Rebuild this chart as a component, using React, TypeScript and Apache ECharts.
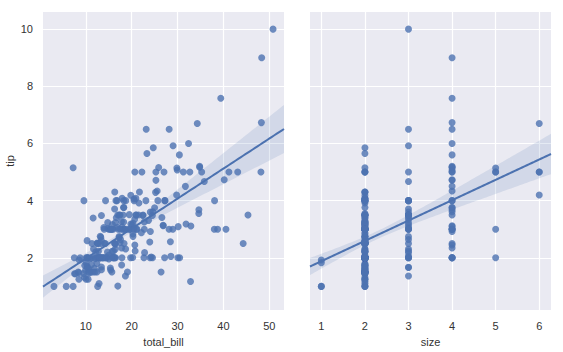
import React, { useEffect, useRef } from "react";
import * as echarts from "echarts";

const totalBill = [
  16.99,10.34,21.01,23.68,24.59,25.29,8.77,26.88,15.04,14.78,
  10.27,35.26,15.42,18.43,14.83,21.58,10.33,16.29,16.97,20.65,
  17.92,20.29,15.77,39.42,19.82,17.81,13.37,12.69,21.7,19.65,
  9.55,18.35,15.06,20.69,17.78,24.06,16.31,16.93,18.69,31.27,
  16.04,17.46,13.94,9.68,30.4,18.29,22.23,32.4,28.55,18.04,
  12.54,10.29,34.81,9.94,25.56,19.49,38.01,26.41,11.24,48.27,
  20.29,13.81,11.02,18.29,17.59,20.08,16.45,3.07,20.23,15.01,
  12.02,17.07,26.86,25.28,14.73,10.51,17.92,27.2,22.76,17.29,
  19.44,16.66,10.07,32.68,15.98,34.83,13.03,18.28,24.71,21.16,
  28.97,22.49,5.75,16.32,22.75,40.17,27.28,12.03,21.01,12.46,
  11.35,15.38,44.3,22.42,20.92,15.36,20.49,25.21,18.24,14.31,
  14.0,7.25,38.07,23.95,25.71,17.31,29.93,10.65,12.43,24.08,
  11.69,13.42,14.26,15.95,12.48,29.8,8.52,14.52,11.38,22.82,
  19.08,20.27,11.17,12.26,18.26,8.51,10.33,14.15,16.0,13.16,
  17.47,34.3,41.19,27.05,16.43,8.35,18.64,11.87,9.78,7.51,
  14.07,13.13,17.26,24.55,19.77,29.85,48.17,25.0,13.39,16.49,
  21.5,12.66,16.21,13.81,17.51,24.52,20.76,31.71,10.59,10.63,
  50.81,15.81,7.25,31.85,16.82,32.9,17.89,14.48,9.6,34.63,
  34.65,23.33,45.35,23.17,40.55,20.69,20.9,30.46,18.15,23.1,
  15.69,19.81,28.44,15.48,16.58,7.56,10.34,43.11,13.0,13.51,
  18.71,12.74,13.0,16.4,20.53,16.47,26.59,38.73,24.27,12.76,
  30.06,25.89,48.33,13.27,28.17,12.9,28.15,11.59,7.74,30.14,
  12.16,13.42,8.58,15.98,13.42,16.27,10.09,20.45,13.28,22.12,
  24.01,15.69,11.61,10.77,15.53,10.07,12.6,32.83,35.83,29.03,
  27.18,22.67,17.82,18.78,
];

const tip = [
  1.01,1.66,3.5,3.31,3.61,4.71,2.0,3.12,1.96,3.23,
  1.71,5.0,1.57,3.0,3.02,3.92,1.67,3.71,3.5,3.35,
  4.08,2.75,2.23,7.58,3.18,2.34,2.0,2.0,4.3,3.0,
  1.45,2.5,3.0,2.45,3.27,3.6,2.0,3.07,2.31,5.0,
  2.24,2.54,3.06,1.32,5.6,3.0,5.0,6.0,2.05,3.0,
  2.5,2.6,5.2,1.56,4.34,3.51,3.0,1.5,1.76,6.73,
  3.21,2.0,1.98,3.76,2.64,3.15,2.47,1.0,2.01,2.09,
  1.97,3.0,3.14,5.0,2.2,1.25,3.08,4.0,3.0,2.71,
  3.0,3.4,1.83,5.0,2.03,5.17,2.0,4.0,5.85,3.0,
  3.0,3.5,1.0,4.3,3.25,4.73,4.0,1.5,3.0,1.5,
  2.5,3.0,2.5,3.48,4.08,1.64,4.06,4.29,3.76,4.0,
  3.0,1.0,4.0,2.55,4.0,3.5,5.07,1.5,1.8,2.92,
  2.31,1.68,2.5,2.0,2.52,4.2,1.48,2.0,2.0,2.18,
  1.5,2.83,1.5,2.0,3.25,1.25,2.0,2.0,2.0,2.75,
  3.5,6.7,5.0,5.0,2.3,1.5,1.36,1.63,1.73,2.0,
  2.5,2.0,2.74,2.0,2.0,5.14,5.0,3.75,2.61,2.0,
  3.5,2.5,2.0,2.0,3.0,3.48,2.24,4.5,1.61,2.0,
  10.0,3.16,5.15,3.18,4.0,3.11,2.0,2.0,4.0,3.55,
  3.68,5.65,3.5,6.5,3.0,5.0,3.5,2.0,3.5,4.0,
  1.5,4.19,2.56,2.02,4.0,1.44,2.0,5.0,2.0,2.0,
  4.0,2.01,2.0,2.5,4.0,3.23,3.41,3.0,2.03,2.23,
  2.0,5.16,9.0,2.5,6.5,1.1,3.0,1.5,1.44,3.09,
  2.2,3.48,1.92,3.0,1.58,2.5,2.0,3.0,2.72,2.88,
  2.0,3.0,3.39,1.47,3.0,1.25,1.0,1.17,4.67,5.92,
  2.0,2.0,1.75,3.0,
];

const partySize = [
  2,3,3,2,4,4,2,4,2,2,
  2,4,2,4,2,2,3,3,3,3,
  2,2,2,4,2,4,2,2,2,2,
  2,4,2,4,2,3,3,3,3,3,
  3,2,2,2,4,2,2,4,3,2,
  2,2,4,2,4,2,4,2,2,4,
  2,2,2,4,3,3,2,1,2,2,
  2,3,2,2,2,2,2,4,2,2,
  2,2,1,2,2,4,2,2,2,2,
  2,2,2,2,2,4,2,2,2,2,
  2,2,3,2,2,2,2,2,2,2,
  2,1,3,2,3,2,4,2,2,4,
  2,2,2,2,2,6,2,2,2,3,
  2,2,2,2,2,2,2,2,2,2,
  2,6,5,6,2,2,3,2,2,2,
  2,2,3,4,4,5,6,4,2,4,
  4,2,3,2,2,3,2,4,2,2,
  3,2,2,2,2,2,2,2,2,2,
  4,2,3,4,2,5,3,5,3,3,
  2,2,2,2,2,2,2,4,2,2,
  3,2,2,2,4,3,3,4,2,2,
  3,4,4,2,3,2,5,2,2,4,
  2,2,1,3,2,2,2,4,2,2,
  4,3,2,2,2,2,2,2,3,3,
  2,2,2,2,
];

const billTicks = [10, 20, 30, 40, 50];
const sizeTicks = [1, 2, 3, 4, 5, 6];
const tipTicks = [2, 4, 6, 8, 10];

const BILL_RANGE = [0.6835, 53.197];
const SIZE_RANGE = [0.74, 6.27];
const TIP_RANGE = [0.17, 10.6];

// OLS fit with heteroscedasticity-consistent band (approximates seaborn's bootstrap CI)
function regression(xs: number[], ys: number[], lo: number, hi: number, steps = 100) {
  const n = xs.length;
  let sx = 0, sy = 0, sxx = 0, sxy = 0;
  for (let i = 0; i < n; i++) {
    sx += xs[i]; sy += ys[i]; sxx += xs[i] * xs[i]; sxy += xs[i] * ys[i];
  }
  const det = n * sxx - sx * sx;
  const inv = [[sxx / det, -sx / det], [-sx / det, n / det]];
  const b0 = inv[0][0] * sy + inv[0][1] * sxy;
  const b1 = inv[1][0] * sy + inv[1][1] * sxy;
  let m00 = 0, m01 = 0, m11 = 0;
  for (let i = 0; i < n; i++) {
    const e = ys[i] - (b0 + b1 * xs[i]);
    const e2 = e * e;
    m00 += e2; m01 += e2 * xs[i]; m11 += e2 * xs[i] * xs[i];
  }
  const M = [[m00, m01], [m01, m11]];
  const mul = (A: number[][], B: number[][]) => [
    [A[0][0] * B[0][0] + A[0][1] * B[1][0], A[0][0] * B[0][1] + A[0][1] * B[1][1]],
    [A[1][0] * B[0][0] + A[1][1] * B[1][0], A[1][0] * B[0][1] + A[1][1] * B[1][1]],
  ];
  const V = mul(mul(inv, M), inv);
  const line: number[][] = [];
  const upper: number[][] = [];
  const lower: number[][] = [];
  for (let k = 0; k <= steps; k++) {
    const x = lo + ((hi - lo) * k) / steps;
    const yhat = b0 + b1 * x;
    const v = V[0][0] + 2 * x * V[0][1] + x * x * V[1][1];
    const h = 1.96 * Math.sqrt(v);
    line.push([x, yhat]);
    upper.push([x, yhat + h]);
    lower.push([x, yhat - h]);
  }
  return { line, upper, lower };
}

const BLUE = "#4C72B0";
const TEXT = "#333333";
const FONT = "Liberation Sans, Arial, sans-serif";

export default function App() {
  const ref = useRef<HTMLDivElement>(null);

  useEffect(() => {
    if (!ref.current) return;
    const chart = echarts.init(ref.current, undefined, { renderer: "svg" });

    const billFit = regression(totalBill, tip, BILL_RANGE[0], BILL_RANGE[1]);
    const sizeFit = regression(partySize, tip, SIZE_RANGE[0], SIZE_RANGE[1]);

    const xAxisBase = (range: number[], ticks: number[], name: string, idx: number) => ({
      type: "value",
      gridIndex: idx,
      min: range[0],
      max: range[1],
      name,
      nameLocation: "middle",
      nameGap: 22,
      nameTextStyle: { color: TEXT, fontSize: 11, fontFamily: FONT },
      axisLine: { show: false },
      axisTick: { show: false, customValues: ticks },
      axisLabel: { customValues: ticks, color: TEXT, fontSize: 11, fontFamily: FONT, margin: 10 },
      splitLine: { show: true, lineStyle: { color: "#ffffff", width: 1.2 } },
    });

    const yAxisBase = (idx: number, showLabels: boolean) => ({
      type: "value",
      gridIndex: idx,
      min: TIP_RANGE[0],
      max: TIP_RANGE[1],
      name: showLabels ? "tip" : "",
      nameLocation: "middle",
      nameGap: 28,
      nameTextStyle: { color: TEXT, fontSize: 11, fontFamily: FONT },
      axisLine: { show: false },
      axisTick: { show: false, customValues: tipTicks },
      axisLabel: { show: showLabels, customValues: tipTicks, color: TEXT, fontSize: 11, fontFamily: FONT, margin: 10 },
      splitLine: { show: true, lineStyle: { color: "#ffffff", width: 1.2 } },
    });

    const band = (fit: any, idx: number) => ({
      type: "custom",
      xAxisIndex: idx,
      yAxisIndex: idx,
      silent: true,
      z: 1,
      data: [[fit.line[0][0], fit.line[0][1]]],
      renderItem: (_params: any, api: any) => {
        const pts = fit.upper.map((p: number[]) => api.coord(p));
        const low = fit.lower.slice().reverse().map((p: number[]) => api.coord(p));
        return {
          type: "polygon",
          shape: { points: pts.concat(low) },
          style: { fill: "rgba(76,114,176,0.15)", stroke: "none" },
        };
      },
    });

    const scatter = (xs: number[], idx: number) => ({
      type: "scatter",
      xAxisIndex: idx,
      yAxisIndex: idx,
      symbolSize: 7,
      z: 2,
      itemStyle: { color: BLUE, opacity: 0.8 },
      data: xs.map((x, i) => [x, tip[i]]),
    });

    const fitLine = (fit: any, idx: number) => ({
      type: "line",
      xAxisIndex: idx,
      yAxisIndex: idx,
      showSymbol: false,
      silent: true,
      z: 3,
      lineStyle: { color: BLUE, width: 2 },
      data: fit.line,
    });

    chart.setOption({
      animation: false,
      backgroundColor: "#ffffff",
      grid: [
        { left: 43, top: 12, width: 241, height: 299, show: true, backgroundColor: "#EAEAF2", borderWidth: 0 },
        { left: 310, top: 12, width: 241, height: 299, show: true, backgroundColor: "#EAEAF2", borderWidth: 0 },
      ],
      xAxis: [
        xAxisBase(BILL_RANGE, billTicks, "total_bill", 0),
        xAxisBase(SIZE_RANGE, sizeTicks, "size", 1),
      ],
      yAxis: [yAxisBase(0, true), yAxisBase(1, false)],
      series: [
        band(billFit, 0),
        scatter(totalBill, 0),
        fitLine(billFit, 0),
        band(sizeFit, 1),
        scatter(partySize, 1),
        fitLine(sizeFit, 1),
      ],
    });

    return () => chart.dispose();
  }, []);

  return <div ref={ref} style={{ width: 563, height: 352, position: "absolute", left: 0, top: 0 }} />;
}
